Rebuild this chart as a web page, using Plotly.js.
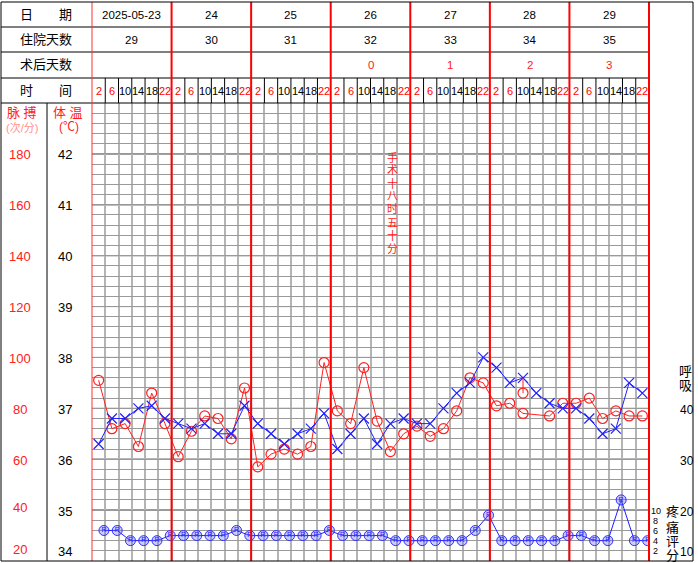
<!DOCTYPE html>
<html><head><meta charset="utf-8">
<script src="https://cdn.plot.ly/plotly-3.0.1.min.js"></script>
<style>html,body{margin:0;padding:0;background:#fff}#chart{width:698px;height:563px}</style>
</head><body><div id="chart"></div>
<script>
// ---------- data ----------
const dates = ['2025-05-23','24','25','26','27','28','29'];
const hospitalDays = ['29','30','31','32','33','34','35'];
const postOpDays = ['','','','0','1','2','3'];
const timeLabels = ['2','6','10','14','18','22'];
const timeColors = ['red','red','black','black','black','red'];

const temperature = [36.3,36.8,36.8,37.0,37.05,36.8, 36.7,36.6,36.7,36.5,36.5,37.05,
  36.7,36.5,36.3,36.5,36.6,36.9, 36.2,36.5,36.8,36.3,36.7,36.8,
  36.7,36.7,37.0,37.3,37.5,38.0, 37.8,37.5,37.6,37.3,37.1,37.0,
  37.0,36.8,36.5,36.6,37.5,37.3];
const pulse = [91,72,74,65,86,74, 61,71,77,76,68,88,
  57,62,64,62,65,98, 79,74,96,75,63,70,
  73,69,72,79,92,90, 81,82,78,null,77,82,
  82,84,76,79,77,77];
const painScore = [6,6,4,4,4,5, 5,5,5,5,6,5, 5,5,5,5,5,6, 5,5,5,5,4,4,
  4,4,4,4,6,9, 4,4,4,4,4,5, 5,4,4,12,4,4];
const coolingSlot = [32];
const coolingTemp = [37.3];

const pulseTicks = [180,160,140,120,100,80,60,40,20];
const tempTicks = [42,41,40,39,38,37,36,35,34];
const respTicks = [40,30,20,10];
const painTicks = [10,8,6,4,2];
const surgeryNote = '手术十八时五十分';
const surgerySlot = 22;

// ---------- geometry ----------
const L=92, R=649, T=103, B=561, W=R-L, H=B-T;
const NS = 42;
const px = x => (x-L)/W, py = y => (B-y)/H;
const pulseToT = p => 34 + (p-20)/20;
const respToT = r => 34 + (r-10)/10;
const painToT = s => 34 + s/10;
const tToPy = t => B - (t-34)/9*H;
const FONT = 'Liberation Sans, Noto Sans CJK SC, sans-serif';

const xs = temperature.map((_,i)=>i+0.5);

const traces = [
  {x: xs, y: pulse.map(p=>p==null?null:pulseToT(p)), mode:'lines+markers', connectgaps:true,
   line:{color:'#ff2020',width:1}, marker:{symbol:'circle-open',size:10,color:'#ff2020',line:{width:1.2}}, hoverinfo:'skip'},
  {x: xs, y: temperature, mode:'lines+markers',
   line:{color:'#2020ff',width:1}, marker:{symbol:'x-thin-open',size:10,color:'#2020ff',line:{width:1.2,color:'#2020ff'}}, hoverinfo:'skip'},
  {x: [coolingSlot[0]+0.5, coolingSlot[0]+0.5], y:[temperature[coolingSlot[0]], coolingTemp[0]], mode:'lines',
   line:{color:'#ff2020',width:1}, hoverinfo:'skip'},
  {x: coolingSlot.map(s=>s+0.5), y: coolingTemp, mode:'markers',
   marker:{symbol:'circle-open',size:10,color:'#ff2020',line:{width:1.2}}, hoverinfo:'skip'},
  {x: painScore.map((_,i)=>i+0.9), y: painScore.map(painToT), mode:'lines+markers+text',
   text: painScore.map(()=> 'R'), textposition:'middle center', textfont:{size:7,color:'#2020ff',family:FONT},
   line:{color:'#2020ff',width:1}, marker:{symbol:'circle',size:10,color:'rgba(110,110,255,0.35)',line:{color:'#3030ff',width:1}}, hoverinfo:'skip'}
];

const shapes = [];
const ln = (x0,y0,x1,y1,color,width,layer) => shapes.push({type:'line',xref:'paper',yref:'paper',x0,y0,x1,y1,line:{color,width},layer:layer||'between'});

// major horizontal lines
for (let t=35;t<=42;t++) ln(0, (t-34)/9, 1, (t-34)/9, t===37?'#ff0000':'#000000', 1);
// header lines
[27,52,78,103].forEach(y=>ln(px(1),py(y),1,py(y),'#000',1,'above'));
// time row separators
for (let s=1;s<NS;s++) if (s%6!==0) ln(s/NS, py(78), s/NS, py(103), '#000', 1, 'above');
// day boundaries
for (let d=1; d<=7; d++) ln(d*6/NS, py(2), d*6/NS, 0, '#ff0000', 2, 'above');
ln(0, py(2), 0, 0, '#ff3030', 1, 'above');
// left column divider
ln(px(47), py(103), px(47), 0, '#000', 1, 'above');
// outer border
shapes.push({type:'rect',xref:'paper',yref:'paper',x0:px(1),x1:px(693),y0:py(2),y1:0,line:{color:'#000',width:1},layer:'above'});

const ann = [];
const txt = (x,y,text,size,color,opts) => ann.push(Object.assign({xref:'paper',yref:'paper',x:px(x),y:py(y),text,showarrow:false,
  xanchor:'center',yanchor:'middle',font:{size,color,family:FONT}},opts||{}));

// left header
txt(46,14.5,'日　　期',13,'#000');
txt(46,39.5,'住院天数',13,'#000');
txt(46,65,'术后天数',13,'#000');
txt(46,90.5,'时　　间',13,'#000');
txt(22,112,'脉 搏',13,'#ff2020');
txt(22,127,'(次/分)',11,'#ff9090');
txt(68,112,'体 温',13,'#ff2020');
txt(69,127,'(℃)',12,'#ff2020');

const dayW = W/7, slotW = W/NS;
dates.forEach((d,i)=>txt(L+(i+0.5)*dayW,14.5,d,11.5,'#000'));
hospitalDays.forEach((d,i)=>txt(L+(i+0.5)*dayW,39.5,d,11.5,'#000'));
postOpDays.forEach((d,i)=>{ if(d!=='') txt(L+(i+0.5)*dayW,65,d,11.5,'#ff2020'); });
for (let s=0;s<NS;s++) txt(L+(s+0.5)*slotW, 91, timeLabels[s%6], 11, timeColors[s%6]);

// scale labels
pulseTicks.forEach(p=>{
  const t = pulseToT(p);
  if (t<=34) txt(20, B-2, String(p), 13, '#ff2020', {yanchor:'bottom'});
  else txt(20, tToPy(t)+1 - (t===35?4:0), String(p), 13, '#ff2020');
});
tempTicks.forEach(t=>{
  if (t<=34) txt(65, B, String(t), 13, '#000', {yanchor:'bottom'});
  else txt(65, tToPy(t)+1, String(t), 13, '#000');
});
respTicks.forEach(r=>{
  const t = respToT(r);
  if (t<=34) txt(687, B, String(r), 12, '#000', {yanchor:'bottom'});
  else txt(687, tToPy(t)+2, String(r), 12, '#000');
});
txt(685,371,'呼',13,'#000');
txt(685,385,'吸',13,'#000');
painTicks.forEach(s=>txt(656, tToPy(painToT(s))+0.5, String(s), 9, '#000', {borderpad:0}));
['疼','痛','评','分'].forEach((c,i)=>txt(672,[511.7,527,541.5,555][i],c,13,'#000'));

// surgery note (vertical)
Array.from(surgeryNote).forEach((c,i)=>txt(L+(surgerySlot+0.5)*slotW+2, 157+i*13.1, c, 11, '#ff2020'));

const layout = {
  width:698, height:563, margin:{l:L,r:698-R,t:T,b:563-B,pad:0},
  paper_bgcolor:'#fff', plot_bgcolor:'#fff', showlegend:false,
  font:{family:FONT},
  xaxis:{range:[0,NS],tick0:0,dtick:1,showgrid:true,gridcolor:'#b4b4b4',gridwidth:2,zeroline:false,showticklabels:false,ticks:'',showline:false,fixedrange:true},
  yaxis:{range:[34,43],tick0:34,dtick:0.2,showgrid:true,gridcolor:'#999999',gridwidth:1,zeroline:false,showticklabels:false,ticks:'',showline:false,fixedrange:true},
  shapes, annotations: ann
};
Plotly.newPlot('chart', traces, layout, {staticPlot:true, displayModeBar:false});
</script></body></html>
